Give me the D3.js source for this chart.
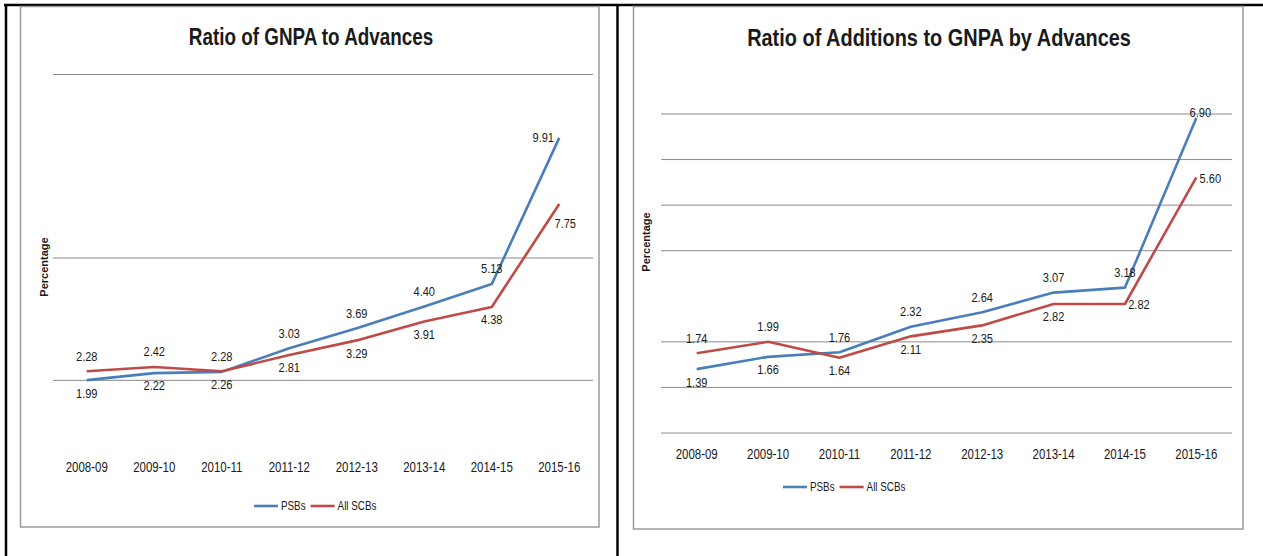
<!DOCTYPE html>
<html>
<head>
<meta charset="utf-8">
<script src="https://cdn.jsdelivr.net/npm/d3@7/dist/d3.min.js"></script>
<style>
  body { margin: 0; background: #fff; }
  svg text { font-family: "Liberation Sans", Arial, sans-serif; fill: #1a1a1a; }
</style>
</head>
<body>
<div id="chart"></div>
<script>
// data
var years = ["2008-09", "2009-10", "2010-11", "2011-12", "2012-13", "2013-14", "2014-15", "2015-16"];
var seriesNames = ["PSBs", "All SCBs"];

var gnpaPSBs = [1.99, 2.22, 2.26, 3.03, 3.69, 4.40, 5.13, 9.91];
var gnpaSCBs = [2.28, 2.42, 2.28, 2.81, 3.29, 3.91, 4.38, 7.75];

var addPSBs = [1.39, 1.66, 1.76, 2.32, 2.64, 3.07, 3.18, 6.90];
var addSCBs = [1.74, 1.99, 1.64, 2.11, 2.35, 2.82, 2.82, 5.60];

// gridlines that show in the picture
var gnpaGrid = [2, 6, 12];
var addGrid = [0, 1, 2, 4, 5, 6, 7];

var colors = ["#4a7ebb", "#be4b48"];

// where each data label sits relative to its point
var labelOffset = { a: [0, -15], b: [0, 13], l: [-16, 0], r: [14, 1], br: [6, 20], ar: [4, -5] };

// the original uses a narrow font, squeeze the text to match
var NARROW = 0.82;

var W = 1263, H = 556;

var svg = d3.select("#chart").append("svg")
  .attr("width", W)
  .attr("height", H)

// outer black frame
svg.append("line").attr("x1", 4).attr("x2", W).attr("y1", 5).attr("y2", 5)
  .attr("stroke", "#000").attr("stroke-width", 2.5)
svg.append("line").attr("x1", 6).attr("x2", 6).attr("y1", 4).attr("y2", H)
  .attr("stroke", "#000").attr("stroke-width", 2.5)
svg.append("line").attr("x1", 617.5).attr("x2", 617.5).attr("y1", 4).attr("y2", H)
  .attr("stroke", "#000").attr("stroke-width", 2.5)

var charts = [
  {
    title: "Ratio of GNPA to Advances", titleSize: 23, titleX: 311, titleY: 37,
    box: [20.5, 6.5, 599, 527],
    xRange: [53, 593], yDomain: [0, 12], yRange: [441, 74], grid: gnpaGrid,
    xLabelY: 467, yLabel: [44, 267],
    series: [gnpaPSBs, gnpaSCBs],
    labels: [["b", "b", "b", "a", "a", "a", "a", "l"], ["a", "a", "a", "b", "b", "b", "b", "br"]],
    legend: [254, 506]
  },
  {
    title: "Ratio of Additions to GNPA by Advances", titleSize: 24.3, titleX: 939, titleY: 38,
    box: [633.5, 6.5, 1243, 529],
    xRange: [661, 1232], yDomain: [0, 7], yRange: [432.5, 113.5], grid: addGrid,
    xLabelY: 454, yLabel: [646, 242],
    series: [addPSBs, addSCBs],
    labels: [["b", "b", "a", "a", "a", "a", "a", "ar"], ["a", "a", "b", "b", "b", "b", "r", "r"]],
    legend: [783, 487]
  }
]

charts.forEach(drawChart)

function squeeze(x, y) {
  return "translate(" + x + "," + y + ") scale(" + NARROW + ",1)"
}

function drawChart(c) {
  var g = svg.append("g")

  g.append("rect")
    .attr("x", c.box[0]).attr("y", c.box[1])
    .attr("width", c.box[2] - c.box[0]).attr("height", c.box[3] - c.box[1])
    .attr("fill", "none").attr("stroke", "#9a9a9a").attr("stroke-width", 1.5)

  g.append("text")
    .attr("transform", squeeze(c.titleX, c.titleY))
    .attr("text-anchor", "middle").attr("dominant-baseline", "central")
    .style("font-size", c.titleSize + "px").style("font-weight", "bold")
    .text(c.title)

  var xPositionScale = d3.scaleBand().domain(years).range(c.xRange)
  var yPositionScale = d3.scaleLinear().domain(c.yDomain).range(c.yRange)
  var px = function (i) { return xPositionScale(years[i]) + xPositionScale.bandwidth() / 2 }

  // gridlines
  var yAxis = d3.axisLeft(yPositionScale)
    .tickValues(c.grid)
    .tickSize(-(c.xRange[1] - c.xRange[0]))
    .tickFormat("")
  var ga = g.append("g")
    .attr("transform", "translate(" + c.xRange[0] + ",0)")
    .call(yAxis)
  ga.select(".domain").remove()
  ga.selectAll(".tick line").attr("stroke", "#8a8a8a").attr("stroke-width", 1)

  // category labels
  var xAxis = d3.axisBottom(xPositionScale).tickSize(0)
  var gx = g.append("g")
    .attr("transform", "translate(0," + c.xLabelY + ")")
    .call(xAxis)
  gx.select(".domain").remove()
  gx.selectAll("text")
    .attr("y", 0).attr("dy", "0.35em")
    .attr("transform", "scale(" + NARROW + ",1)")
    .style("font-size", "14px").attr("fill", "#1a1a1a")
    .style("font-family", "\"Liberation Sans\", Arial, sans-serif")

  g.append("text")
    .attr("transform", "translate(" + c.yLabel[0] + "," + c.yLabel[1] + ") rotate(-90)")
    .attr("text-anchor", "middle").attr("dominant-baseline", "central")
    .style("font-size", "11px").style("font-weight", "bold")
    .text("Percentage")

  var line = d3.line()
    .x(function (d, i) { return px(i) })
    .y(function (d) { return yPositionScale(d) })

  c.series.forEach(function (values, s) {
    g.append("path")
      .datum(values)
      .attr("d", line)
      .attr("fill", "none")
      .attr("stroke", colors[s])
      .attr("stroke-width", 2.6)
      .attr("stroke-linejoin", "round")
  })

  c.series.forEach(function (values, s) {
    g.selectAll(".lbl" + s)
      .data(values)
      .enter().append("text")
      .attr("class", "lbl" + s)
      .attr("transform", function (d, i) {
        var off = labelOffset[c.labels[s][i]]
        return squeeze(px(i) + off[0], yPositionScale(d) + off[1])
      })
      .attr("text-anchor", "middle").attr("dominant-baseline", "central")
      .style("font-size", "13.5px")
      .text(function (d) { return d3.format(".2f")(d) })
  })

  // legend
  var lx = c.legend[0]
  seriesNames.forEach(function (name, s) {
    g.append("line")
      .attr("x1", lx).attr("x2", lx + 24)
      .attr("y1", c.legend[1]).attr("y2", c.legend[1])
      .attr("stroke", colors[s]).attr("stroke-width", 2.6)
    var t = g.append("text")
      .attr("transform", squeeze(lx + 27, c.legend[1]))
      .attr("dominant-baseline", "central")
      .style("font-size", "12px")
      .text(name)
    lx = lx + 27 + t.node().getComputedTextLength() * NARROW + 5
  })
}
</script>
</body>
</html>
